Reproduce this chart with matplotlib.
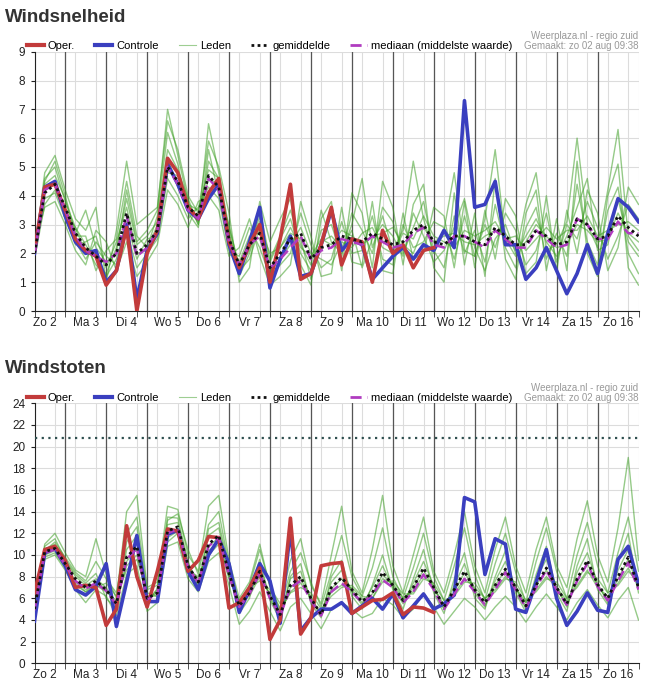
import matplotlib
matplotlib.use("Agg")
import matplotlib.pyplot as plt
import numpy as np
from matplotlib.lines import Line2D

plt.rcParams['font.family'] = ['Liberation Sans', 'DejaVu Sans']

days = ["Zo 2","Ma 3","Di 4","Wo 5","Do 6","Vr 7","Za 8","Zo 9","Ma 10","Di 11","Wo 12","Do 13","Vr 14","Za 15","Zo 16"]
t = np.arange(1, 61) * 0.25  # days since Zo 2 00:00, 6-hourly

wind_oper = [2.1,4.3,4.4,3.5,2.5,2.1,1.9,0.9,1.4,2.9,0.0,2.0,2.8,5.3,4.8,3.6,3.2,4.1,4.6,2.4,1.5,2.3,3.0,1.0,2.5,4.4,1.1,1.3,2.3,3.6,1.6,2.5,2.4,1.0,2.8,2.0,2.3,1.5,2.1,2.2]
wind_ctrl = [2.0,4.3,4.5,3.3,2.4,2.0,2.1,1.0,1.4,3.0,0.4,2.1,2.7,5.1,4.4,3.5,3.2,3.9,4.4,2.3,1.3,2.4,3.6,0.8,1.8,2.6,1.2,1.3,2.3,3.5,2.1,2.5,2.3,1.1,1.5,1.9,2.2,1.8,2.3,2.1,
             2.8,2.2,7.3,3.6,3.7,4.5,2.3,2.3,1.1,1.5,2.2,1.4,0.6,1.3,2.3,1.3,2.7,3.9,3.6,3.1]
wind_mean = [2.0,4.1,4.4,3.6,2.7,2.2,1.9,1.6,2.0,3.4,2.0,2.3,2.8,5.0,4.5,3.6,3.3,4.7,4.3,2.5,1.6,2.3,2.7,1.5,2.0,2.5,2.7,1.8,2.2,2.3,2.6,2.5,2.4,2.7,2.5,2.3,2.4,2.8,3.0,2.4,
             2.3,2.6,2.6,2.4,2.3,2.9,2.6,2.3,2.3,2.8,2.6,2.3,2.4,3.2,3.0,2.5,2.6,3.3,2.9,2.6]
wind_median = [2.0,4.2,4.4,3.5,2.6,2.1,1.9,1.7,2.0,3.3,1.9,2.2,2.8,5.0,4.4,3.5,3.2,4.6,4.2,2.4,1.6,2.3,2.6,1.5,1.8,2.2,2.6,1.8,2.1,2.2,2.5,2.4,2.3,2.6,2.4,2.2,2.3,2.7,2.9,2.3,
               2.2,2.6,2.6,2.4,2.2,2.8,2.5,2.2,2.2,2.8,2.5,2.2,2.3,3.2,3.0,2.5,2.5,3.1,2.7,2.7]
wind_members = [
 [1.9,4.6,5.0,3.8,2.9,2.3,1.6,1.3,2.2,3.9,2.3,2.6,3.1,5.6,4.9,3.9,3.0,5.2,4.6,2.8,1.2,2.0,3.1,1.7,2.5,3.2,2.0,1.4,2.8,3.0,1.9,3.4,2.8,2.0,3.6,3.1,2.0,2.9,3.8,2.1,1.5,3.3,2.0,2.8,1.7,3.7,2.2,1.5,2.9,3.6,1.8,2.7,1.9,4.4,2.4,1.6,3.5,4.3,2.0,1.3],
 [2.2,3.9,4.1,3.2,2.4,1.8,2.4,1.9,1.6,2.8,1.5,2.0,2.5,4.6,4.0,3.2,3.6,4.3,3.9,2.1,1.9,2.9,2.2,1.2,1.6,2.0,3.4,2.3,1.5,1.8,3.1,2.0,2.1,3.3,1.8,1.6,3.0,2.2,2.4,3.1,2.9,1.8,3.3,1.9,3.0,2.2,3.4,2.8,1.6,2.1,3.4,1.7,3.0,2.5,3.8,2.9,1.8,2.6,3.7,3.2],
 [2.0,4.4,4.7,3.9,2.6,2.6,1.4,2.1,2.5,4.5,2.6,2.2,3.3,6.2,5.1,3.4,2.9,5.6,4.0,3.0,1.4,1.8,2.9,2.0,2.2,2.7,2.5,1.1,2.4,2.6,2.2,2.8,1.5,2.5,3.0,2.6,1.9,3.4,2.6,1.7,2.1,2.9,3.9,2.2,1.4,2.5,3.0,2.0,2.6,3.2,2.4,1.9,2.6,3.6,4.6,2.1,2.3,3.9,2.4,1.9],
 [1.8,3.7,4.2,3.4,2.9,2.0,2.0,1.2,1.8,3.1,1.8,2.5,2.6,4.8,4.7,3.7,3.5,4.9,4.6,2.4,1.7,2.6,2.5,1.4,1.8,2.3,2.9,2.0,1.8,1.6,2.4,2.2,2.7,2.9,2.2,2.0,2.7,2.5,3.3,2.6,2.4,2.2,2.8,2.6,2.8,3.1,2.5,2.6,2.1,2.5,2.9,2.5,2.8,2.8,3.3,2.6,2.8,3.0,3.1,2.8],
 [2.1,4.2,4.4,3.6,2.3,2.4,2.6,1.5,2.4,3.6,2.0,2.1,3.0,5.3,4.3,3.5,3.1,4.6,4.4,2.6,1.5,2.1,3.3,1.3,2.2,2.9,2.2,1.9,2.5,2.3,2.8,2.6,2.3,2.6,2.7,2.9,2.3,2.0,2.9,2.4,2.6,2.7,2.4,2.3,2.6,2.8,2.7,2.1,2.4,3.0,2.6,2.2,2.3,3.0,2.8,2.4,2.5,3.4,2.7,2.4],
 [2.0,4.8,5.4,4.2,3.2,2.8,3.6,1.0,2.8,5.2,3.0,3.3,3.6,6.6,5.6,4.0,3.4,5.9,5.0,3.4,1.0,1.5,3.8,2.4,3.2,3.9,1.6,0.9,3.2,3.8,1.4,4.1,3.4,1.5,4.5,3.6,1.6,3.7,4.4,1.5,1.0,4.1,1.6,3.4,1.2,4.6,1.8,1.1,3.4,4.2,1.4,3.2,1.4,5.2,2.0,1.2,4.0,5.1,1.5,0.9],
 [2.3,3.6,3.8,3.0,2.1,1.6,2.8,2.4,1.4,2.4,1.2,1.7,2.3,4.2,3.7,2.9,3.8,4.0,3.5,1.9,2.2,3.2,1.9,0.9,1.2,1.6,3.8,2.6,1.2,1.3,3.6,1.7,1.6,3.8,1.4,1.3,3.4,1.8,2.0,3.6,3.3,1.5,3.8,1.5,3.5,1.8,3.9,3.3,1.3,1.7,4.0,1.4,3.5,2.0,4.2,3.4,1.4,2.2,4.3,3.7],
 [1.9,4.5,5.2,4.0,2.7,3.5,2.2,1.7,2.0,4.2,2.4,2.8,3.5,7.0,5.4,3.8,3.0,6.5,4.8,2.9,1.6,2.4,3.5,1.8,2.6,3.5,2.3,1.6,3.5,2.4,2.0,3.0,4.6,2.2,3.3,2.1,2.8,5.2,3.2,2.0,2.8,4.8,2.1,1.9,3.2,5.6,2.5,1.9,3.7,4.8,2.1,2.3,3.1,6.0,3.0,2.2,4.2,6.3,2.6,2.1],
]

gust_oper = [6.5,10.5,10.8,9.5,7.0,7.2,7.0,3.5,5.0,12.7,8.0,5.2,8.5,12.4,12.2,8.5,9.5,11.7,11.6,5.1,5.6,7.0,8.8,2.2,4.0,13.4,2.7,4.2,9.0,9.2,9.3,4.6,5.2,5.8,5.9,6.5,4.5,5.2,5.1,4.7]
gust_ctrl = [3.9,10.2,10.6,9.0,6.8,6.3,7.1,9.2,3.4,7.5,11.8,5.7,5.7,11.9,12.3,8.5,6.8,10.0,11.5,9.2,4.7,6.8,9.2,7.6,3.7,12.4,3.0,4.2,5.0,5.0,5.6,4.6,5.3,6.0,5.0,6.4,4.2,5.3,6.4,5.0,
             5.5,6.3,15.3,14.9,8.2,11.5,11.0,5.0,4.7,7.5,10.5,6.0,3.5,4.8,6.5,4.9,4.7,9.6,10.8,7.3]
gust_mean = [5.0,10.3,10.6,9.2,7.8,7.0,7.6,6.8,5.5,9.8,10.8,6.0,6.5,12.2,12.6,9.0,7.5,11.0,11.8,8.3,5.3,6.5,8.5,6.2,4.5,7.2,8.0,6.0,4.5,7.0,7.9,6.8,5.7,6.5,8.4,7.2,5.8,7.0,8.8,7.0,
             5.2,6.8,8.5,6.8,5.6,7.2,8.7,7.0,5.3,7.2,8.8,7.0,5.5,7.8,9.5,7.3,6.0,8.0,9.8,7.0]
gust_median = [4.9,10.2,10.5,9.1,7.6,6.9,7.4,6.7,5.4,9.6,10.6,5.9,6.4,12.0,12.4,8.9,7.4,10.8,11.6,8.1,5.2,6.4,8.3,6.0,4.4,7.0,7.6,5.8,4.4,6.6,7.4,6.6,5.6,6.3,7.7,7.0,5.6,6.6,8.2,6.8,5.0,6.4,7.8,6.6,5.4,6.8,8.4,6.8,5.1,7.0,8.6,6.8,5.4,7.6,9.2,7.1,5.8,7.6,9.3,6.8]
gust_members = [
 [5.2,10.8,11.5,9.6,8.2,7.4,8.3,6.0,5.0,11.2,12.6,5.6,6.9,13.5,13.4,9.4,7.0,12.4,13.0,8.8,4.6,6.0,9.6,5.8,4.0,8.0,9.2,5.5,4.2,8.0,9.5,6.2,5.0,7.2,10.0,6.8,5.0,7.8,10.5,6.5,4.6,7.8,10.2,6.0,5.0,8.0,10.4,6.5,4.7,8.2,10.8,6.5,4.8,9.0,11.5,6.8,5.4,9.4,12.0,6.5],
 [4.8,9.8,10.2,8.8,7.2,6.6,7.0,7.4,6.2,8.6,9.6,6.5,6.2,11.2,12.0,8.6,8.0,10.0,11.0,7.8,5.8,7.0,7.6,6.8,5.0,6.5,7.0,6.5,5.0,6.2,7.0,7.2,6.2,6.0,7.5,7.6,6.4,6.4,7.8,7.4,5.8,6.2,7.5,7.4,6.0,6.6,7.8,7.5,5.8,6.6,7.8,7.5,6.0,7.0,8.4,7.8,6.5,7.2,8.5,7.5],
 [5.5,10.5,11.0,9.5,8.0,7.2,7.8,7.0,5.2,10.5,11.8,5.8,6.8,12.8,13.0,9.2,7.2,11.8,12.5,8.5,5.0,6.8,9.0,6.0,4.2,7.8,8.5,5.8,4.6,7.5,8.6,6.6,5.4,7.0,9.0,7.0,5.5,7.4,9.4,7.2,5.0,7.2,9.2,6.5,5.2,7.6,9.4,7.0,5.0,7.8,9.6,7.0,5.2,8.4,10.2,7.4,5.6,8.6,10.5,7.2],
 [4.5,10.0,10.4,9.0,7.6,6.8,7.2,6.6,5.8,9.0,10.0,6.2,6.2,11.6,12.2,8.8,7.8,10.4,11.2,8.0,5.6,6.2,8.0,6.4,4.8,6.6,7.4,6.2,4.4,6.6,7.2,7.0,6.0,6.0,7.8,7.4,6.0,6.6,8.2,7.0,5.4,6.4,7.8,7.0,6.0,6.8,8.0,7.0,5.6,6.8,8.0,7.0,5.8,7.2,8.6,7.0,6.2,7.4,8.8,7.0],
 [5.0,11.0,12.0,10.2,8.6,8.0,11.5,8.2,6.0,14.0,15.5,7.0,7.5,14.5,14.2,10.0,8.5,14.5,15.5,9.5,6.0,7.5,11.0,7.0,5.5,9.5,11.5,7.2,5.5,10.0,14.5,8.5,6.5,10.5,15.5,9.0,6.5,10.0,13.5,8.5,6.5,10.0,14.0,9.0,6.5,10.5,13.5,9.0,6.5,10.5,13.5,9.0,7.0,11.5,15.0,10.0,7.5,12.5,19.0,9.5],
 [4.2,9.6,10.0,8.6,6.8,5.6,6.8,6.2,4.4,8.2,9.0,4.8,5.6,10.8,11.2,7.8,6.6,9.4,10.2,7.2,3.6,4.8,6.6,4.8,3.0,5.2,6.0,4.6,3.2,5.0,5.6,5.0,4.2,4.6,6.0,5.4,4.2,5.0,6.5,5.2,3.6,4.8,6.0,5.2,4.0,5.2,6.2,5.2,3.8,5.2,6.4,5.2,4.0,5.6,6.8,5.4,4.2,5.8,7.0,4.0],
 [5.0,10.4,11.2,9.8,8.4,7.6,9.4,7.8,6.5,12.0,13.5,6.8,7.2,13.2,13.8,10.5,8.2,12.8,14.0,9.0,5.5,7.2,10.5,7.2,5.0,8.5,10.2,7.5,5.2,8.4,11.8,8.0,6.2,8.8,12.5,8.0,6.0,8.8,12.0,8.0,5.8,9.0,12.5,8.2,5.8,9.2,12.0,8.4,5.6,9.4,12.5,8.5,6.0,10.0,13.0,9.0,6.5,10.2,13.5,8.5],
 [4.6,10.1,10.6,9.2,7.4,6.6,7.4,6.8,5.5,9.4,10.6,6.0,6.5,12.0,12.4,8.9,7.4,10.8,11.6,8.2,5.2,6.4,8.4,6.2,4.4,7.0,7.8,6.0,4.5,6.9,7.8,6.8,5.6,6.4,8.2,7.2,5.8,7.0,8.6,7.0,5.0,6.6,8.4,6.8,5.4,7.2,8.6,7.0,5.2,7.2,8.6,7.0,5.4,7.6,9.2,7.2,5.8,7.8,9.6,7.0],
]
gust_threshold = 20.8

RED = '#c23b3b'; BLUE = '#3a3fbf'; GREEN = '#3f9f26'; MAG = '#b03cc0'

fig = plt.figure(figsize=(6.51, 6.86), dpi=100)
W, H = 651, 686
def axrect(l, r, top, bot):
    return [l / W, 1 - bot / H, (r - l) / W, (bot - top) / H]

axes = [fig.add_axes(axrect(34.5, 638.5, 51.7, 311)), fig.add_axes(axrect(34.5, 638.5, 403.3, 663.3))]
cfg = [
    (axes[0], wind_oper, wind_ctrl, wind_mean, wind_median, wind_members, 9, 1, "Windsnelheid", 17),
    (axes[1], gust_oper, gust_ctrl, gust_mean, gust_median, gust_members, 24, 2, "Windstoten", 369),
]
for ax, op, ct, mn, md, mem, ymax, ystep, title, ty in cfg:
    ax.set_xlim(0.25, 15.0)
    ax.set_ylim(0, ymax)
    ax.set_yticks(np.arange(0, ymax + 0.1, ystep))
    ax.set_xticks(np.arange(0.25, 15.01, 0.25), minor=True)
    ax.set_xticks(np.arange(15) + 0.5)
    ax.set_xticklabels(days)
    ax.tick_params(axis='x', which='major', length=0, pad=4, labelsize=8.5, colors='#222')
    ax.tick_params(axis='x', which='minor', length=4, color='#333')
    ax.tick_params(axis='y', labelsize=8.5, length=3, colors='#222')
    ax.grid(True, which='minor', axis='x', color='#dcdcdc', lw=0.8)
    ax.grid(True, which='major', axis='y', color='#dcdcdc', lw=0.8)
    ax.set_axisbelow(True)
    for d in range(1, 15):
        ax.axvline(d, color='#555', lw=0.9, zorder=1)
    for s in ['top', 'right']:
        ax.spines[s].set_visible(False)
    for s in ['left', 'bottom']:
        ax.spines[s].set_color('#222')
    for m in mem:
        ax.plot(t, m, color=GREEN, lw=1.0, alpha=0.55, zorder=2)
    ax.plot(t[:len(ct)], ct, color=BLUE, lw=2.6, zorder=4)
    ax.plot(t[:len(op)], op, color=RED, lw=2.6, zorder=5)
    ax.plot(t, md, color=MAG, lw=1.8, ls=(0, (4, 2)), zorder=6)
    ax.plot(t, mn, color='#111', lw=2.0, ls=(0, (1, 1.2)), zorder=7)
    fig.text(5 / W, 1 - ty / H, title, fontsize=13.5, fontweight='bold', color='#333', va='center')
    handles = [Line2D([], [], color=RED, lw=3), Line2D([], [], color=BLUE, lw=3),
               Line2D([], [], color=GREEN, lw=0.8, alpha=0.5), Line2D([], [], color='#111', lw=2, ls=(0, (1, 1.2))),
               Line2D([], [], color=MAG, lw=2, ls=(0, (4, 2)))]
    labels = ["Oper.", "Controle", "Leden", "gemiddelde", "mediaan (middelste waarde)"]
    ax.legend(handles, labels, ncol=5, loc='lower left', bbox_to_anchor=(-0.02, 0.985), frameon=False,
              fontsize=8, handlelength=1.5, handletextpad=0.4, columnspacing=1.8, borderaxespad=0)
    ax.text(1.0, 1.06, "Weerplaza.nl - regio zuid", transform=ax.transAxes, ha='right', va='center', fontsize=7, color='#999')
    ax.text(1.0, 1.022, "Gemaakt: zo 02 aug 09:38", transform=ax.transAxes, ha='right', va='center', fontsize=7, color='#999')

axes[1].axhline(gust_threshold, color='#2f4f4f', lw=1.6, ls=(0, (1, 2)), zorder=3)
fig.savefig("out.png", dpi=100, facecolor='white')
